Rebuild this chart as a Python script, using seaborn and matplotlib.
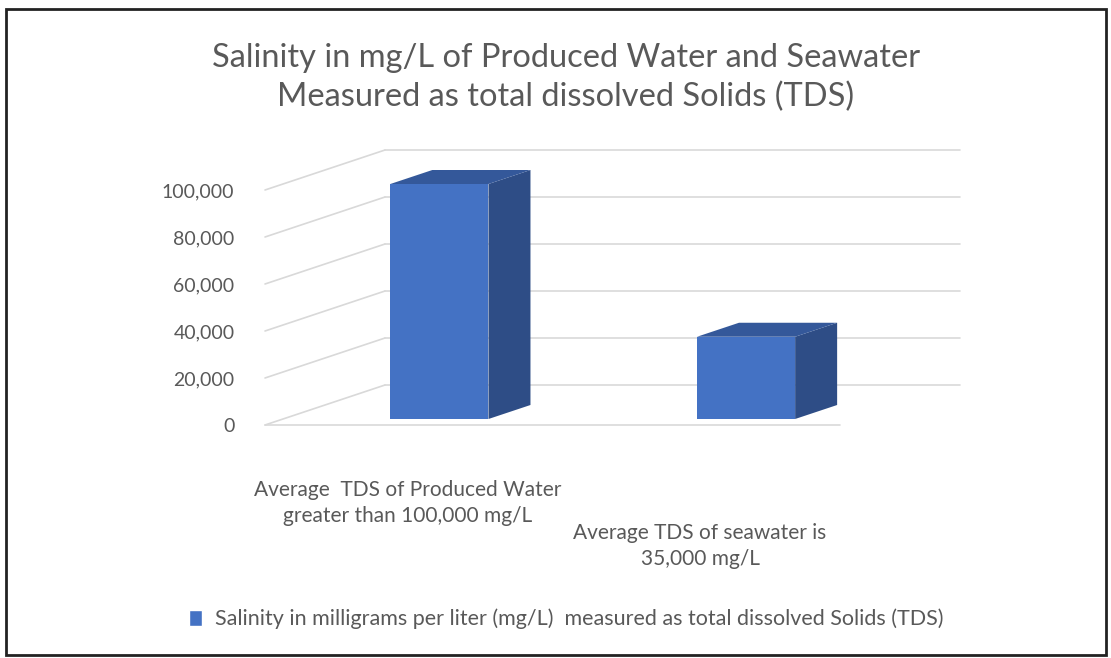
import pandas as pd
import seaborn as sns
import matplotlib.pyplot as plt
from matplotlib.patches import Polygon, Rectangle

# data
categories = ["Average  TDS of Produced Water\ngreater than 100,000 mg/L",
              "Average TDS of seawater is\n35,000 mg/L"]
tds_values = [100000, 35000]
series_name = "Salinity in milligrams per liter (mg/L)  measured as total dissolved Solids (TDS)"
y_ticks = [0, 20000, 40000, 60000, 80000, 100000]
title = "Salinity in mg/L of Produced Water and Seawater\nMeasured as total dissolved Solids (TDS)"

# colours
FRONT = "#4472C4"
SIDE = "#2E4D86"
TOP = "#34589A"
GRID = "#D9D9D9"
TEXT = "#595959"

sns.set_theme(style="white")
plt.rcParams['font.family'] = ['Lato', 'DejaVu Sans']

W, H = 1111, 658
fig = plt.figure(figsize=(W / 100, H / 100), dpi=100)
ax = fig.add_axes([265 / W, 233 / H, 575 / W, 235 / H])

df = pd.DataFrame({"category": categories, "tds": tds_values, "series": series_name})
sns.barplot(data=df, x="category", y="tds", hue="series", palette=[FRONT],
            width=0.32, saturation=1, ax=ax, zorder=3)

xmin, xmax = -0.51, 1.365
ax.set_xlim(xmin, xmax)
ax.set_ylim(0, 100000)

# oblique depth: full wall depth in pixels
DX, DY = 120, 40
px_x = 575 / (xmax - xmin)
px_y = 235 / 100000


def off(f):
    return f * DX / px_x, f * DY / px_y


# walls and floor
bx, by = off(1.0)
for v in y_ticks:
    ax.plot([xmin, xmin + bx], [v, v + by], color=GRID, lw=1.2, clip_on=False, zorder=1)
    ax.plot([xmin + bx, xmax + bx], [v + by, v + by], color=GRID, lw=1.2, clip_on=False, zorder=1)
ax.plot([xmin, xmax], [0, 0], color=GRID, lw=1.2, clip_on=False, zorder=1)

# give the bars depth
f0, f1 = 0.15, 0.5
a0x, a0y = off(f0)
a1x, a1y = off(f1)
for p in ax.containers[0]:
    x0, w, h = p.get_x(), p.get_width(), p.get_height()
    p.set_x(x0 + a0x)
    p.set_y(a0y)
    p.set_edgecolor("none")
    p.set_clip_on(False)
    xl, xr = x0 + a0x, x0 + w + a0x
    side = Polygon([(xr, a0y), (x0 + w + a1x, a1y), (x0 + w + a1x, h + a1y), (xr, h + a0y)],
                   closed=True, facecolor=SIDE, edgecolor="none", zorder=3, clip_on=False)
    top = Polygon([(xl, h + a0y), (xr, h + a0y), (x0 + w + a1x, h + a1y), (x0 + a1x, h + a1y)],
                  closed=True, facecolor=TOP, edgecolor="none", zorder=3, clip_on=False)
    ax.add_patch(side)
    ax.add_patch(top)

# axes text
ax.set_yticks(y_ticks, labels=[f"{v:,}" for v in y_ticks])
ax.tick_params(axis="y", length=0, pad=22, labelsize=14, labelcolor=TEXT)
ax.set_xticks([])
ax.set_xlabel("")
ax.set_ylabel("")
for s in ax.spines.values():
    s.set_visible(False)
ax.patch.set_alpha(0)

label_offsets = [(-14, -55), (-28, -98)]
for i, (lab, (ox, oy)) in enumerate(zip(categories, label_offsets)):
    ax.annotate(lab, (i, 0), xytext=(ox, oy), textcoords="offset pixels",
                ha="center", va="top", fontsize=15, color=TEXT, linespacing=1.4,
                annotation_clip=False)

sns.move_legend(ax, "center", bbox_to_anchor=(566 / W, 1 - 619 / H),
                bbox_transform=fig.transFigure, frameon=False, title=None,
                fontsize=15.5, handlelength=0.6, handleheight=0.75, handletextpad=0.6)
for t in ax.get_legend().get_texts():
    t.set_color(TEXT)

fig.text(566 / W, 1 - 78 / H, title, ha="center", va="center", fontsize=23.5,
         color=TEXT, linespacing=1.35)

# chart border
fig.add_artist(Rectangle((6 / W, 3 / H), 1100 / W, 646 / H, transform=fig.transFigure,
                         fill=False, edgecolor="#222222", lw=2))

fig.savefig("out.png", dpi=100)
